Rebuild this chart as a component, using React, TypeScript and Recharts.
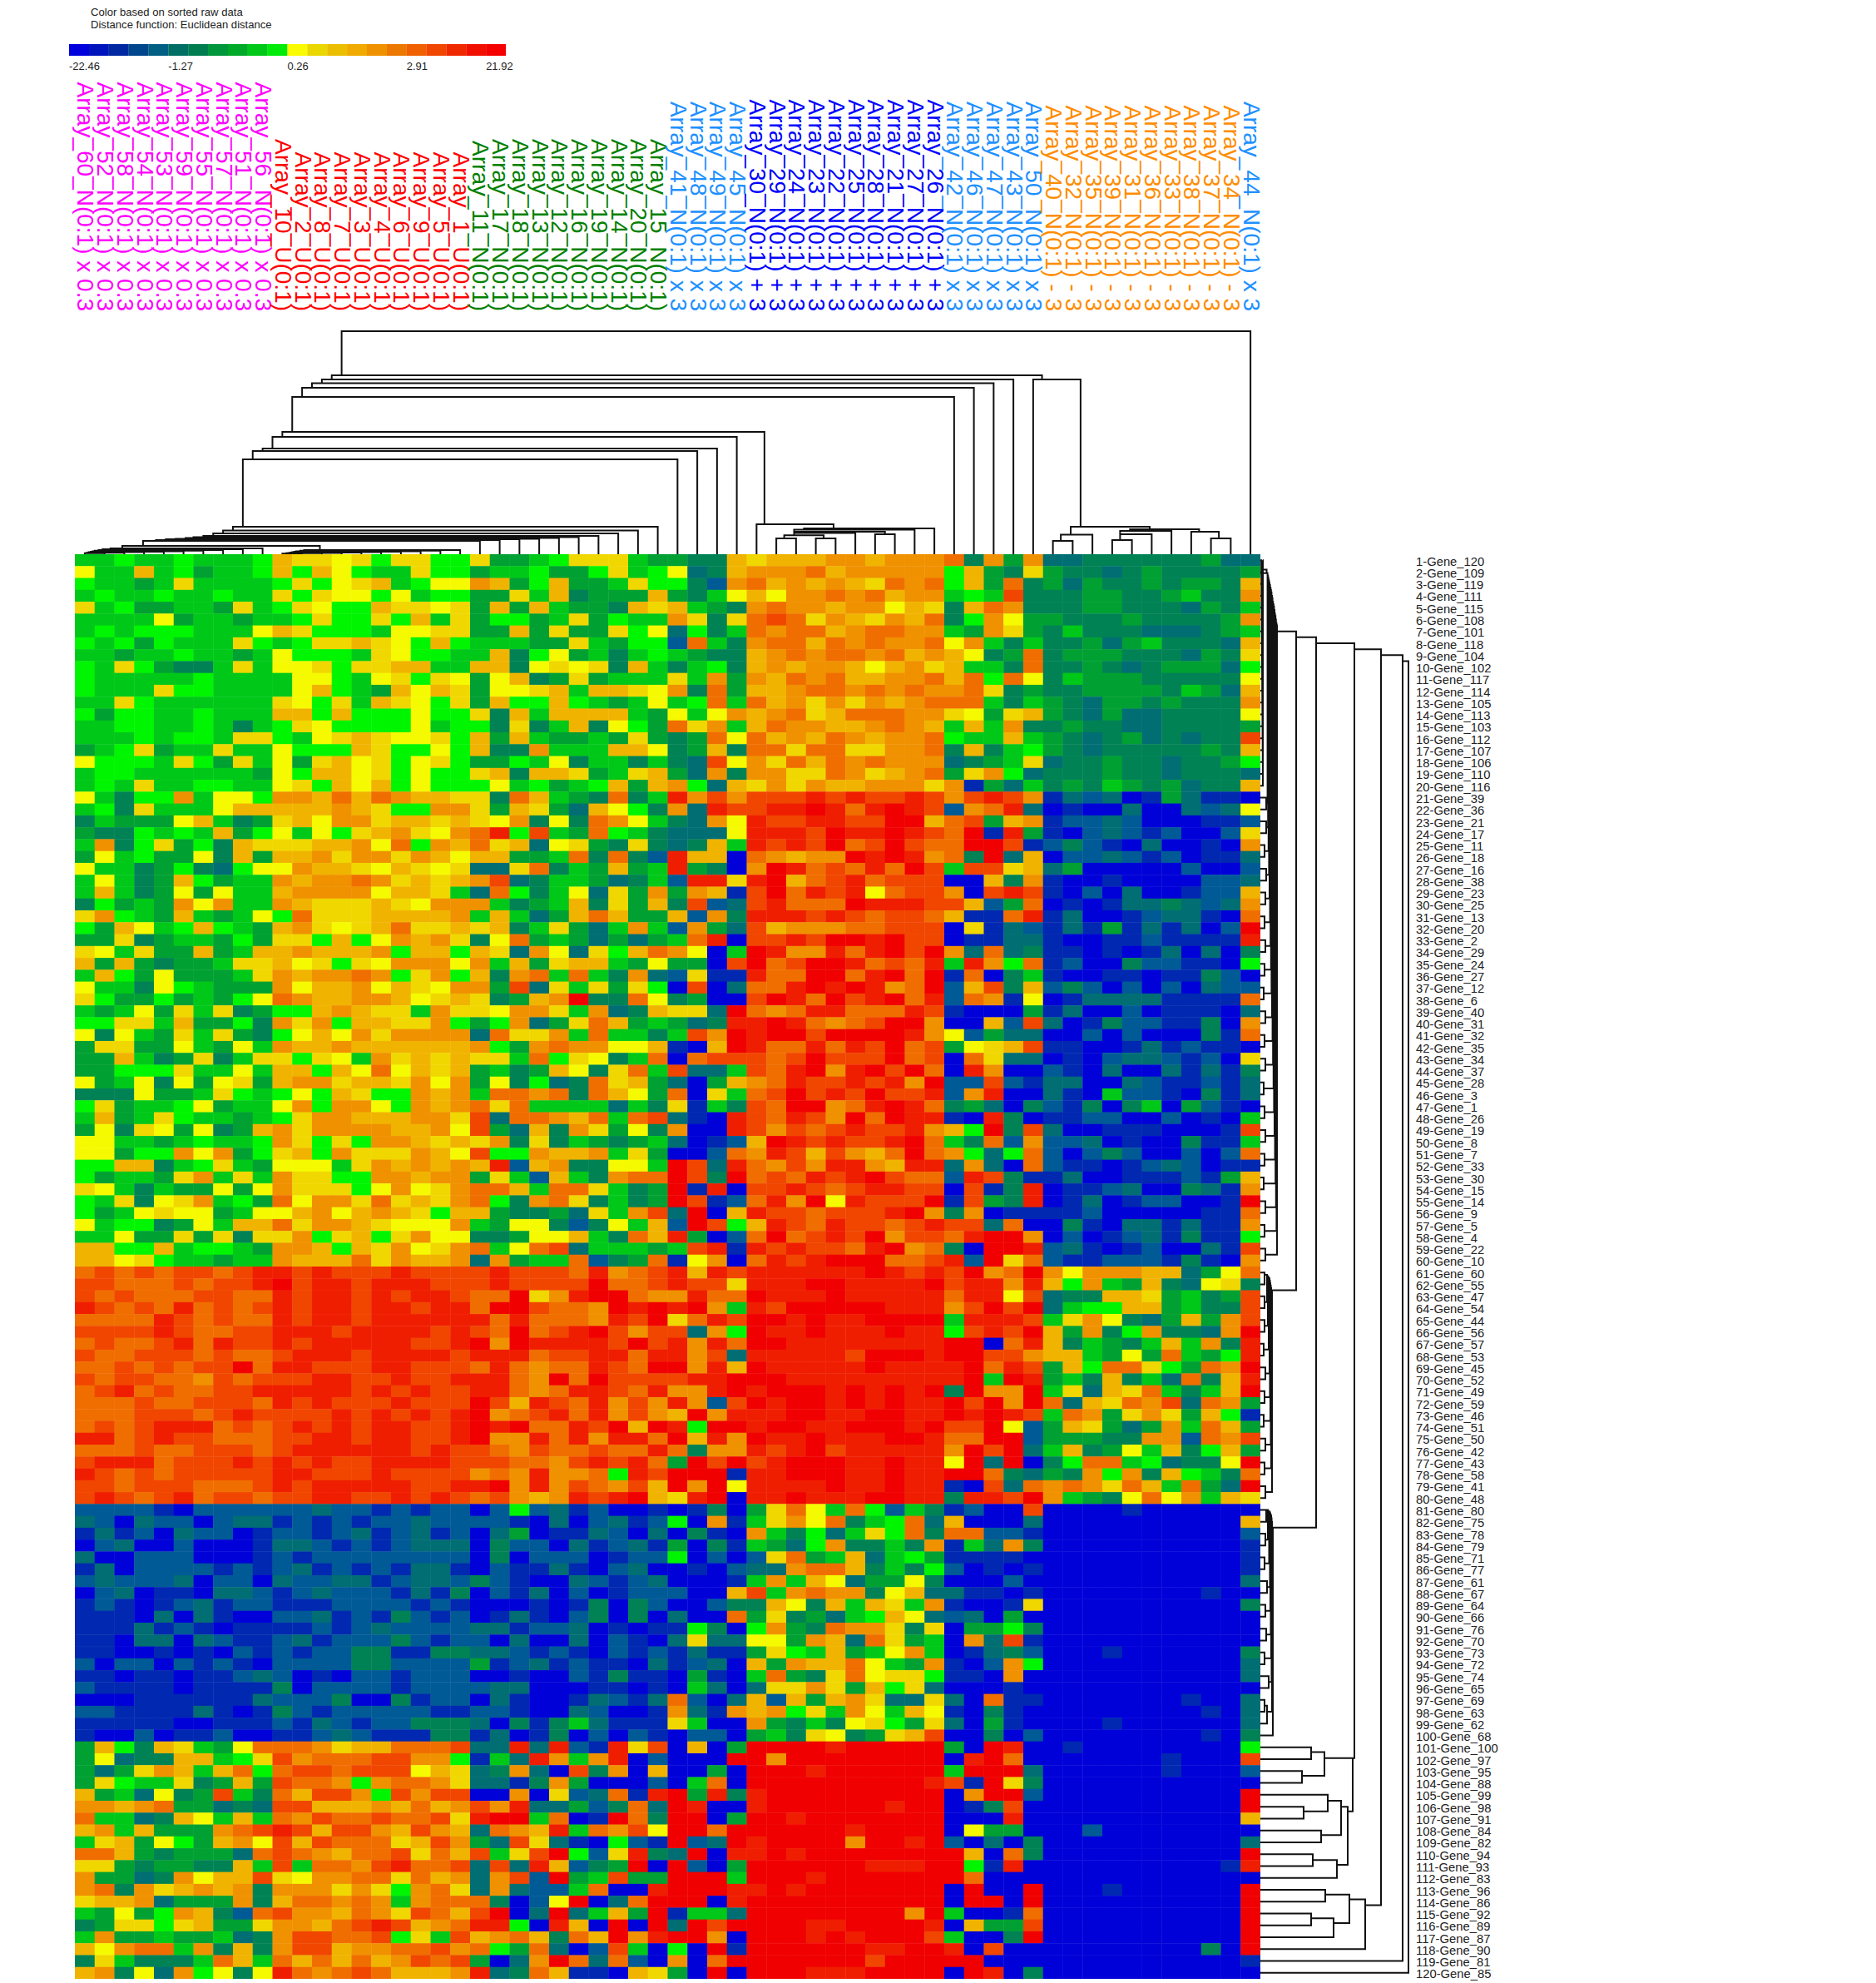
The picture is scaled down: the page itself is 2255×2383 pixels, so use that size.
import { BarChart, Bar, Cell, LineChart, Line, ScatterChart, Scatter, XAxis, YAxis } from 'recharts';

// colour levels of the heat map, low (blue) to high (red); a row string holds one letter per cell
const LEVEL_KEYS = 'abcdefghijklmnop';
const LEVEL_COLORS = [
  '#0000d8', '#0028b0', '#005a96', '#006e73', '#008255', '#00a032', '#00c819', '#00f500',
  '#f5fa00', '#f0d700', '#f0b400', '#f09100', '#f06e00', '#f04600', '#f01e00', '#f00000',
];

// rows 1-120, columns 1-60
const HEAT_ROWS = [
  'gghgghgggh kjjijhjjhh jffghjjjgf feekjkkkll klllmelfld deeeeeefdd',
  'iggkghfggh khkihggjhh fgghffhjgh ideklllmkl llllhkfejf eedefeeeef',
  'hggfgjgggg hjhijkghii lkfhkffgjh heclmklklk jmlmhkfmef dfeefeffek',
  'ghgghgghgg jhjiihighh ffjgkefffk fegikillml mkllghgnee effeefgeel',
  'jghffggfjg hjihhkjjij fkfkgffekj kgfelmllkl likjekmlee effeeedfeg',
  'ggggifggfg ghjhhjhkgj fhhfgjfhgg ljejmnmjlk jlkmehliff eeefeeeefl',
  'ghghhhgggi kjhhhgiijj ffkfjffjhi dhegmlmmkl mmllgfljfe geeedddefg',
  'hghfhgggjh ghjjkjihkh gggffjgfhh cmgelmmkml mllmilgege efdfgeeedk',
  'ggfgghggfg ihhhgjihhg gkehifgegh gfeeklmlmm lmklkiefme fffeeedfej',
  'hgjhfeegjg iijhjjkkgg kkeijijekg egheklkllk ikljkggeme efedefffdh',
  'hggggghggg giihgijhji fikefjfggg jglflkmlmk kllmkmhmie gfffeeeeei',
  'hgggjhhggg gikhgfkikj fiijkgkkji lemfkklmml mlmllmjefe effffegfdk',
  'ggjhgggggg jihjgkjihj fkhhkhgfgi ghmgmkljlj lklmmmgegf edffefeeel',
  'hfhhgghggg kkhkhhhihh jekgkkkkgf igilklmjkm mmlljifjkf edfddeeeei',
  'gghhgghgeg hjihhhhigh hejegkeihf mjlgkmllkk lmlkgkglee feeddeeeef',
  'ggghghhgjj hgijkjiijh kfkgffgfjf efmimklkml kllmhggkgf edefdedeen',
  'fghjfggjgg ihhhkjhhih keelgggkki efkemmjmmj jllmekeghf edeeeeefek',
  'ihhhgjhfjg ifjkijhijh ffhgieggeg edniljmkml mllldefgjd eefeedeefh',
  'ghhggggggf ihkkijhihh jkekkjfgjk fdlelljjml jklmfjlhde eefeedeeed',
  'ghgjgghhgg ijhkikhihh highfghkfk lhdkjljlkk llljlbfdge fegfefdeek',
  'igehhlgiih llkmkmlkkj jemkgfemeg olnlnnnono nnonlnonlb dcdabfdbba',
  'ghejgggikk kkklkjhhll jfkjfdkihe ldonnoopom oponclmoda baadaadcdi',
  'egfffikgef jkilljkkjk jileiemlig edlionnoon nppkmnfklb ccdcaaabbc',
  'feehghgkfh igihjkljil mohngfmhge dddiooonpo oponmpbofb acdcbcaacj',
  'glehjfhekj jjkklimhlk mjkdijfeje dekgononpm npnmmppnbc ecbadaabal',
  'fighffiekf kkljlljlki kkffgmemec okkamlkllp opolmepdka ccdcbcabbd',
  'iggefhedhi ilkkjikjij ddjmegfkfg ofealpomnm ompngnnjkd faaaaacaac',
  'gigefkhfgg lkllmljkjk lndeggfdeg coojopkmno mnnnaakelb aabaaaaccd',
  'gkgefifigg kllllikkjg dmhegidjfl flkbnpmono imnnlanonb acadaabcck',
  'ehfgflilgg lkjjjkjill lgefgkejfk encdnommmp ooonnkcfma babddedcdl',
  'jlhgfkgfgi hmjjjkkkkl gkgdfkmkff kcleooonon mnnmkbbmob daabcddbam',
  'hfkighkhgf kljijkmjjk jkegjfdglg clfdnklllm mnnnajbdcb dbfbdbdacp',
  'ffjefggfhf jjhkhilklj eimfgfdfdf gmoannonpp opnnabbddb aabbcbbbbo',
  'jigjffkfgk klkkklhkkh kjdlidjhkm liagpollom opnpldmdeb bababdadae',
  'kfkfeffgjj kijhjillli lgkfjkkgfi ffanpmnppo mnmogolhmb caaeccbbah',
  'gkhfifffgj lkllmlhjlh kelmgmgeld cjbbommppm opmpbmaegb aabbabbeca',
  'iggeihgfff likklikjil lfndjgjfjh anadmmopop olmpcknekc ecacacadcc',
  'jhffhfgfhi mlkkllkijk jefklpeemi efaanpompn opmocmlbia bddddbbbbm',
  'gfgifjgjef hhklkjjglj jilljgldek jjdpmlmoom mmonbaaafb daacabbbad',
  'hhjjgkffhe ljlhkkjjlh fhldfjmkfg fdeoopomlm npplaakcnd abeccbbeal',
  'ieigfjgjfe hikiljllll dmjjlgmgge gnlpoppnpp ppolicfdda acacaaaebm',
  'fjjffigfig lkklkkkkkk lhflmlliik bakpommomo npmnfijknb baabdbcbba',
  'ffkgefjegj jhjigljkjk jjgmhjiegm amnnnmnpnn npmnamjdda bacddcbcaj',
  'ffhhhjggig kkhkimikjk fgefkiejmg nddgnmoplo pnpmaolaac badaadbdbe',
  'ifgieifijf klljkkjlil fiehdemjkf dafklmonno nolpccncbd daadcbbcbd',
  'eeeiffgjhg hihkjhhlkl gmmlmemkif majgmnpnon pnnocloaad bagccbaebd',
  'hjfgghifgg ilhllihlkl mjmggggdge jbgenmpplm opomefdaec beaegafcba',
  'gkfgjhggfg hjllkkkllj ndmmlkmgmn dbaonmonlp mpoobaoeab bccaacabag',
  'fiejifiefk ljllllkkli nfdkeljfie laaonlnmno nnolkhpend aabbbaaabn',
  'iiggfghggh ljhjhllkjk jlejegfefg dabckponon nopmgemclc cdabaaebbg',
  'iifhhlilfh jkhljjjlki nhhlkklgjf aacmlonknl kmpmlhdhmc acecaacacm',
  'hhkkeghjgf iiigjlklkl kockleeiig pndomlnloo lkoodldamc bbabcdcabb',
  'hfggfjlgjg ljjhhllkll fjgckgelmm pnepmnmono pnmmconebb daabbbcbfk',
  'jigegffifi ljjjhilijl mmkgmmjgef pboannonmn oonnanbeoa bbcdaaedbl',
  'hgjeijlghf milljmjkjl mhelmjegef pnbcmolpio nnnpbnfeoa bdabccaabp',
  'hfgijiifgi ikliklkjhk kfeefdjgln dpakonnmnn noplelabbb bcaaaaabbm',
  'ighhefigkk mjllkjiiil gfiieceigk cpnhkonmon nmnonndmaa ebaddbdbbl',
  'ggiffjfjej jlhjkhjlii eefiikgemk ofacmpmnon plnnmoppla cabcdbebbh',
  'kkhhkghhgf llkhkjlijl mgimndgggf gnobononnm oplmeappoc dbabcaadbn',
  'kkijhggfgg lkkkmjlkkl dlfggmcefm bilamonopp pmmnocpjmc bbcccbebal',
  'mnmnmnnmno ononnnonnn nonnnmolmn okonoooooo pononplmpl illlkkdfim',
  'nnmmmnmnno pnoonooonn nonnnnpmmn onnjoooppo ooopnoolok hlgfkedije',
  'nmnmmmnnmm onoononoon mmpjloppml lommpooopo oooomooind eekkjfgefn',
  'onmnmomnmn onoonoonoo mppnmmlpop oplgonpppp pooolnpnpd ghhkkfgeen',
  'mmmmonmnmm onoonooooo omommmlonp jmonppopoo ppppgooong jliedfkfln',
  'nnnnonmmnn ooonoooono nmpmnopnln ndlhpoopoo opoohnonpk flehleedlp',
  'mnmmnomonn onooooonno plpoooonpn olomppoooo ooooppamok egfegkgleo',
  'nmmnnnmnmm nooonoooon ooomnnoomo olndooooon pppoppnnlk kgfifmgfho',
  'mmnmnmnnpm oonnnoonnn momlmmonmp plokpooooo poooopmonf khmmjhfmlp',
  'nmnnmmlnmn nnoonnonno oomlpmpnnn noopppoooo ooooopgpof gekegdmeko',
  'mnomnmmnno oooonononn oomlmoonmo llopopppop opopepllpg jdkjmgegkp',
  'mmmnmmnnnm ononnnonnn pnkonmolnl olcnpoppop opoopnplpm dkjmlndmlf',
  'mmmnnnmnon nnnononono plmnomolnl kploooppoo ppoopopong mlfjljfkhb',
  'mnmnooomnm nononoonno popmmonpkp ohppoppoop ppopnnpicf kjfdflgmkf',
  'oomnonnmmm nnoonoonno pllomoloom pkolpoopoo oppommppcf ffeellcmln',
  'mmmnmmnnnm noooooonon nmlnmmnmmo mellonopno oooolpnpdg kefigkehkf',
  'nooomnnnon ononnoooon nnmmlnonom fpnpnopppo opooipdpae hmmghdeeip',
  'onmnmnnnnn oonnnonnnn lmlollmhon pppboopppo opooppmedf elhlekhgem',
  'nnmnnnmmmn onooooonno oplolnmlnk plpioooopo opoobandml mljmkgmfdp',
  'nonmnomnnm nnoonnonon mnlklonopk jopaoopooo ppooeoonpl gfeimilgkj',
  'ccccbacccc ccdccbcbcc achcdbcaab abeafjmigm hcgebcaana aaabaaaaaa',
  'dcadccacdd bcbcbccdcc ccbadacdbc halbgjlime ghmdkaaada aaaaaaaaak',
  'bdbcadccab ccbcdbcdbc adfabbdcad aebalgehdg jhmemmccba aaaaaaaaac',
  'acdaacaaab ddcbcbcddd aeccadbcdb faebgfdhle egelbgdlea aaaaaaaaab',
  'daacccaaab cbcccccccc aeacccabcc hacacjmfgk dghfbbbbaa aaaaaaaaab',
  'bdaccccbcb cdbcbcbddb acbbdbacda abacddlmmk egehcababa aaaaaaaaab',
  'cdcccdacca dccddbcddc ecbaadcbcd aaabglgkid ffieaaacaa aaaaaaaaad',
  'acdabbaddc bcdcccbdbe acbdacabcc caaknglmll eikddbbaba aaaaaaabaa',
  'bcbabcdbcc bbbccccbcb aaababeaec aaceekiekg kjglbaabja aaaaaaaaae',
  'bbbadadbaa ccdbcbecbc abdbaceaea daamfjefdg hkidcdafaa aaaaaaaaaa',
  'bbbdbcbabb bbcbcdcccc ddbccdabab bheahlfeml ljejaffhea aaaaaaaaaa',
  'bbaddadcbb cdbcccecbc cadaadacba djddiiflkd mjfgaldnba aaaaaaaaaa',
  'bbaababacb cbcceebbee ddcbcbacbc bdbbfjhgkf gilgabdeca aabaaaaaae',
  'caccacbcba cccceecccc fbcdbcbbad bcdakflkkm igflbaclha aaaaaaaaad',
  'bbabbabbcd cabaccbccc aabaacbebb afbagmfejm ijjhbbalaa aaaaaaaaad',
  'cbbbbabbbb eaccccbccc cddaaabbab agdadjjljf khjdaaabaa aaaaaaaaaa',
  'aaabbbbbbd ccceaaebcc adbaabdcbd mcadkckfkl jddjdambba aaaaaabaad',
  'ccbbbbdbab ecbcccccbb ccbaadcaab ldblklhjgl igkibaebaa aaaaaaabad',
  'bbbbbaabbb cbdcbcceee daebegdbbb jgaalfegei jhfjdafbaa aabaaaaaad',
  'baacabbcaa bbcdcbbbee bdabeacacb accafgejie fjknaaeaca aaaaaaabae',
  'fkhekjgfim mmljkkmmmn ddodocbojn akafppppop ppppfapoaa baaaaaaaah',
  'fideekkghj nlmmmnnllh bgdolgloac aaapplpppp ppppaopmaa aaaaabaaan',
  'fdfjlkgkmh mnnmnnnikj deldanelak aafapppopp ppppgpppda aaaaabaaac',
  'fjhggjefkf nmmlhlmmlj ddbelfaaac agmapppppp ppponbpjea aaaaaaaaaa',
  'kfgdiefnge mknnlhnlnn aalajcdmbo pfoeoppppp ppppalppca aaaaaaaaap',
  'llklmffded nnkkklkmkl nloddfcemd poaaoppppp poppabenaa aaaaaaaaap',
  'mggdekigkg mlnmmnmmnj oppgmabpme ppafppoppp ppppaaaoaa aaaaaaaaak',
  'klgkffflmn onknnlknlk dmlkogmlni ppmppppppo ppppaiffaa acaaaaaaaa',
  'gjkfihfkli nknmmmjknl fdnjdbahcb pcdpoppppl ppopcadaea aaaaaaaaad',
  'mmkfefffdm nmlkmmnjmk ngjnphcjoe dpaoopoppp pppppkamea aaaaaaaaap',
  'jjfeffeekg ngmmlnommn dndokcefpa pcafpppppp ooopphboaa aaaaaaaabo',
  'lffdelikkn jillmmjmkl dlncpfgnff pppgpppopp pppppmaaaa aaaaaaaaaa',
  'lmeljklkle llljljhlmj dldccgmaao pppoopoppp ppppapaapa aabaaaaaap',
  'jkkldfffle kmmlmlglmm meacipadmp ppaopppppp ppppappapa aaaaaaaaap',
  'gfifhlkecm nllkmljnmk npadpdgkfp bggdpppppp pplpgaabma aaaaaaaaap',
  'efjjhjkffj llkmnonklm oohaokapap dpnppppoop pppoakffna aaaaaaaaap',
  'glffgffgde lnnmmnhjgn klmkemkplo pplapppopo pppngaaepa aaaaaaaaap',
  'kilmmgleke lnnkllmmnl mhfmdacnga hapbpppppp ooppoanaaa aaaaaaaeap',
  'ejgeeegmkg mkmkmklnmn fadlpmdmca lamppppppp npppppaaaa aaaaaaaaab',
  'kleidlhiei omlmnmkkkl odemkbbakj fapapppooo ppppapoaea aaaaaaaaaa',
];

const COLUMN_LABELS = [
  ...['60', '52', '58', '54', '53', '59', '55', '57', '51', '56'].map((n) => `Array_${n}_N(0:1) x 0.3`),
  ...['10', '2', '8', '7', '3', '4', '6', '9', '5', '1'].map((n) => `Array_${n}_U(0:1)`),
  ...['11', '17', '18', '13', '12', '16', '19', '14', '20', '15'].map((n) => `Array_${n}_N(0:1)`),
  ...['41', '48', '49', '45'].map((n) => `Array_${n}_N(0:1) x 3`),
  ...['30', '29', '24', '23', '22', '25', '28', '21', '27', '26'].map((n) => `Array_${n}_N(0:1) + 3`),
  ...['42', '46', '47', '43', '50'].map((n) => `Array_${n}_N(0:1) x 3`),
  ...['40', '32', '35', '39', '31', '36', '33', '38', '37', '34'].map((n) => `Array_${n}_N(0:1) - 3`),
  'Array_44_N(0:1) x 3',
];

const COLUMN_GROUPS: [number, string][] = [
  [10, '#ff00ff'], [10, '#ff0000'], [10, '#008000'], [4, '#1e90ff'],
  [10, '#0000ff'], [5, '#1e90ff'], [10, '#ff8c00'], [1, '#1e90ff'],
];

const GENE_IDS = [
  120, 109, 119, 111, 115, 108, 101, 118, 104, 102, 117, 114, 105, 113, 103, 112, 107, 106, 110, 116,
  39, 36, 21, 17, 11, 18, 16, 38, 23, 25, 13, 20, 2, 29, 24, 27, 12, 6, 40, 31,
  32, 35, 34, 37, 28, 3, 1, 26, 19, 8, 7, 33, 30, 15, 14, 9, 5, 4, 22, 10,
  60, 55, 47, 54, 44, 56, 57, 53, 45, 52, 49, 59, 46, 51, 50, 42, 43, 58, 41, 48,
  80, 75, 78, 79, 71, 77, 61, 67, 64, 66, 76, 70, 73, 72, 74, 65, 69, 63, 62, 68,
  100, 97, 95, 88, 99, 98, 91, 84, 82, 94, 93, 83, 96, 86, 92, 89, 87, 90, 81, 85,
];

// array tree: [left x, right x, height, height of left child, height of right child]
const ARRAY_LINKS = [
  [13.5, 59.5, 268, 215, 0], [13, 48.95, 215, 210, 210], [48.5, 50.9, 210, 0, 33],
  [12.5, 47.5, 210, 205.5, 0], [12, 46.5, 205.5, 200, 0], [11.5, 45.5, 200, 189, 0],
  [11, 44.5, 189, 147, 0], [10.5, 34.9, 147, 141, 36], [10, 33.5, 141, 127, 0],
  [9.5, 32.5, 127, 124, 0], [9, 31.5, 124, 114, 0], [8.5, 30.5, 114, 33, 0],
  [8, 29.5, 33, 28.5, 0], [7.5, 28.5, 28.5, 25, 0], [7, 27.5, 25, 22, 0],
  [6.5, 26.5, 22, 20.5, 0], [6, 25.5, 20.5, 19.5, 0], [5.6, 24.5, 19.5, 18.5, 0],
  [5.1, 23.5, 18.5, 18, 0], [4.6, 22.5, 18, 17, 0], [4.1, 21.5, 17, 16, 0],
  [3.45, 20.5, 16, 10, 0], [2.4, 12.4, 10, 7, 5],
  [1.8, 9.5, 7, 6, 0], [1.4, 8.5, 6, 5, 0], [1.2, 7.5, 5, 4.3, 0], [1, 6.5, 4.3, 3.6, 0],
  [0.9, 5.5, 3.6, 3, 0], [0.8, 4.5, 3, 2.4, 0], [0.7, 3.5, 2.4, 1.8, 0], [0.6, 2.5, 1.8, 1.2, 0],
  [0.5, 1.5, 1.2, 0, 0],
  [11.6, 19.5, 5, 4.2, 0], [11.4, 18.5, 4.2, 3.6, 0], [11.2, 17.5, 3.6, 3, 0], [11.1, 16.5, 3, 2.5, 0],
  [11, 15.5, 2.5, 2, 0], [10.9, 14.5, 2, 1.6, 0], [10.8, 13.5, 1.6, 1.2, 0], [10.7, 12.5, 1.2, 0.8, 0],
  [10.5, 11.5, 0.8, 0, 0],
  [34.5, 38.4, 36, 0, 31], [36.9, 43.5, 31, 29.5, 0], [36.4, 42.5, 29.5, 27, 0],
  [36.4, 41, 27, 25.5, 24], [40.5, 41.5, 24, 0, 0], [36.4, 39.5, 25.5, 22.7, 0],
  [35.9, 37.9, 22.7, 19, 19], [35.5, 36.5, 19, 0, 0], [37.5, 38.5, 19, 0, 0],
  [50.4, 54.4, 33, 23.5, 30], [49.9, 51.5, 23.5, 16, 0], [49.5, 50.5, 16, 0, 0],
  [53.4, 56.9, 30, 28, 27], [52.9, 55.5, 28, 24, 0], [52.9, 54.5, 24, 17, 0], [52.5, 53.5, 17, 0, 0],
  [56.5, 57.9, 27, 0, 19], [57.5, 58.5, 19, 0, 0],
];

// gene tree: [top row, bottom row, distance, distance of top child, distance of bottom child]
const GENE_LINKS = [
  [9, 119.5, 178, 171, 0], [8.5, 118.5, 171, 145, 0], [8, 113.8, 145, 113, 126],
  [7.5, 101.4, 113, 67, 111], [7, 82, 67, 43, 15], [6.5, 62, 43, 20, 14],
  [113.3, 117.5, 126, 107, 0], [112.9, 115.3, 107, 78, 88], [112.5, 113.5, 78, 0, 0],
  [114.9, 116.5, 88, 61, 0], [114.5, 115.5, 61, 0, 0],
  [101.4, 105.9, 111, 77, 105], [100.9, 102.9, 77, 61, 50], [100.5, 101.5, 61, 0, 0], [102.5, 103.5, 50, 0, 0],
  [105.5, 110.4, 105, 97, 92], [105, 107.9, 97, 81, 73], [104.5, 105.9, 81, 0, 52], [105.5, 106.5, 52, 0, 0],
  [107.5, 108.5, 73, 0, 0], [110, 111.5, 92, 63, 0], [109.5, 110.5, 63, 0, 0],
  [82, 99.5, 15, 14, 0], [81.5, 97.5, 14, 13.5, 8], [81.2, 95, 13.5, 13, 10], [81, 93, 13, 12.5, 5],
  [80.9, 91, 12.5, 12, 7], [80.8, 89, 12, 11.5, 6], [80.7, 87, 11.5, 10.5, 8], [80.6, 85, 10.5, 9, 5],
  [80.5, 83, 9, 7, 6], [80.5, 81.5, 7, 0, 0], [82.5, 83.5, 6, 0, 0], [84.5, 85.5, 5, 0, 0],
  [86.5, 87.5, 8, 0, 0], [88.5, 89.5, 6, 0, 0], [90.5, 91.5, 7, 0, 0], [92.5, 93.5, 5, 0, 0],
  [94.5, 95.5, 10, 0, 0], [96.5, 97.5, 5, 0, 0], [97, 98.5, 8, 5, 0],
  [62, 79, 14, 13, 6], [61.8, 77, 13, 12.5, 5], [61.6, 75, 12.5, 12, 6], [61.4, 73, 12, 11.5, 4],
  [61.2, 71, 11.5, 11, 5], [61, 69, 11, 10, 6], [60.9, 67, 10, 9, 4], [60.8, 65, 9, 8, 5],
  [60.7, 63, 8, 5, 5], [60.5, 61.5, 5, 0, 0], [62.5, 63.5, 5, 0, 0], [64.5, 65.5, 5, 0, 0],
  [66.5, 67.5, 4, 0, 0], [68.5, 69.5, 6, 0, 0], [70.5, 71.5, 5, 0, 0], [72.5, 73.5, 4, 0, 0],
  [74.5, 75.5, 6, 0, 0], [76.5, 77.5, 5, 0, 0], [78.5, 79.5, 6, 0, 0],
  [6, 59, 20, 19.4, 6], [5.8, 57, 19.4, 18.8, 5], [5.5, 55, 18.8, 18.2, 6], [5.2, 53, 18.2, 17.6, 4],
  [5, 51, 17.6, 17, 5], [4.7, 49, 17, 16.4, 6], [4.4, 47, 16.4, 15.8, 5], [4.2, 45, 15.8, 15.2, 4],
  [4, 43, 15.2, 14.6, 6], [3.7, 41, 14.6, 14, 5], [3.5, 39, 14, 13.4, 6], [3.2, 37, 13.4, 12.8, 4],
  [3, 35, 12.8, 12.2, 5], [2.8, 33, 12.2, 11.6, 6], [2.6, 31, 11.6, 11, 5], [2.4, 29, 11, 10.4, 6],
  [2.2, 27, 10.4, 9.8, 7], [2, 25, 9.8, 9.2, 5], [1.8, 23, 9.2, 8.6, 7], [1.6, 21, 8.6, 7.5, 7],
  [20.5, 21.5, 7, 0, 0], [22.5, 23.5, 7, 0, 0], [24.5, 25.5, 5, 0, 0], [26.5, 27.5, 7, 0, 0],
  [28.5, 29.5, 6, 0, 0], [30.5, 31.5, 5, 0, 0], [32.5, 33.5, 6, 0, 0], [34.5, 35.5, 5, 0, 0],
  [36.5, 37.5, 4, 0, 0], [38.5, 39.5, 6, 0, 0], [40.5, 41.5, 5, 0, 0], [42.5, 43.5, 6, 0, 0],
  [44.5, 45.5, 4, 0, 0], [46.5, 47.5, 5, 0, 0], [48.5, 49.5, 6, 0, 0], [50.5, 51.5, 5, 0, 0],
  [52.5, 53.5, 4, 0, 0], [54.5, 55.5, 6, 0, 0], [56.5, 57.5, 5, 0, 0], [58.5, 59.5, 6, 0, 0],
  [1.3, 1.6, 7.5, 3, 0],
  [0.5, 19.5, 3, 2.9, 0], [0.6, 18.5, 2.9, 2.8, 0], [0.7, 17.5, 2.8, 2.7, 0], [0.8, 16.5, 2.7, 2.6, 0],
  [0.9, 15.5, 2.6, 2.5, 0], [1, 14.5, 2.5, 2.4, 0], [1.1, 13.5, 2.4, 2.3, 0], [1.2, 12.5, 2.3, 2.2, 0],
  [1.2, 11.5, 2.2, 2.1, 0], [1.2, 10.5, 2.1, 2, 0], [1.2, 9.5, 2, 1.9, 0], [1.2, 8.5, 1.9, 1.8, 0],
  [1.2, 7.5, 1.8, 1.7, 0], [1.2, 6.5, 1.7, 1.6, 0], [1.2, 5.5, 1.6, 1.5, 0], [1.2, 4.5, 1.5, 1.4, 0],
  [1.2, 3.5, 1.4, 1.3, 0], [1.2, 2.5, 1.3, 1.2, 0], [0.5, 1.5, 1.2, 0, 0],
];

const LEGEND_COLORS = [
  '#0000dc', '#0014be', '#0028a0', '#00468c', '#005f82', '#006e64', '#007d50', '#00963c', '#00aa28', '#00c819', '#00eb0a',
  '#fafa00', '#ebd700', '#ebbe00', '#f0aa00', '#f09100', '#eb7800', '#f05f00', '#f04600', '#f02800', '#f00f00', '#f50000',
];
const LEGEND_TICKS: Record<number, string> = { 0: '-22.46', 5: '-1.27', 11: '0.26', 17: '2.91', 21: '21.92' };

const FONT = '"Liberation Sans", Arial, sans-serif';
const CELL_W = 1425 / 60;
const CELL_H = 1712 / 120;

const cells = HEAT_ROWS.flatMap((line, row) =>
  line.replace(/ /g, '').split('').map((key, col) => ({ x: col + 0.5, y: row + 0.5, level: LEVEL_KEYS.indexOf(key) })),
);

const columnColors = COLUMN_GROUPS.flatMap(([n, color]) => Array(n).fill(color));
const columnTicks = COLUMN_LABELS.map((_, i) => i + 0.5);
const rowTicks = GENE_IDS.map((_, i) => i + 0.5);
const legendData = LEGEND_COLORS.map((_, i) => ({ idx: i, v: 1 }));

const arrayTree = ARRAY_LINKS.flatMap(([xl, xr, h, hl, hr]) => [
  { x: xl, y: hl }, { x: xl, y: h }, { x: xr, y: h }, { x: xr, y: hr }, { x: xr, y: null },
]);
const geneTree = GENE_LINKS.flatMap(([top, bottom, d, dt, db]) => [
  { x: dt, y: top }, { x: d, y: top }, { x: d, y: bottom }, { x: db, y: bottom }, { x: db, y: null },
]);

function CellShape(props: any) {
  return (
    <rect
      x={props.cx - CELL_W / 2}
      y={props.cy - CELL_H / 2}
      width={CELL_W + 0.4}
      height={CELL_H + 0.4}
      fill={LEVEL_COLORS[props.payload.level]}
    />
  );
}

function ColumnTick(props: any) {
  const i = Math.floor(props.payload.value);
  const x = props.x + 1;
  return (
    <text
      x={x}
      y={374}
      transform={`rotate(90 ${x} 374)`}
      textAnchor="end"
      dominantBaseline="central"
      fontFamily={FONT}
      fontSize={28}
      fill={columnColors[i]}
    >
      {COLUMN_LABELS[i]}
    </text>
  );
}

function GeneTick(props: any) {
  const i = Math.floor(props.payload.value);
  return (
    <text x={187} y={props.y + 1.5} dominantBaseline="central" fontFamily={FONT} fontSize={14.8} fill="#222">
      {`${i + 1}-Gene_${GENE_IDS[i]}`}
    </text>
  );
}

function LegendTick(props: any) {
  const label = LEGEND_TICKS[props.payload.value];
  if (!label) return <g />;
  return (
    <text x={props.x - 525 / 22 / 2} y={26} dominantBaseline="central" fontFamily={FONT} fontSize={13} fill="#222">
      {label}
    </text>
  );
}

const at = (left: number, top: number) => ({ position: 'absolute' as const, left, top });

export default function App() {
  return (
    <div style={{ position: 'absolute', left: 0, top: 0, width: 2255, height: 2383, background: '#fff', overflow: 'hidden' }}>
      <div style={{ ...at(109, 8), fontFamily: FONT, fontSize: 13.1, lineHeight: '14.5px', color: '#222', whiteSpace: 'nowrap' }}>
        Color based on sorted raw data
        <br />
        Distance function: Euclidean distance
      </div>

      <div style={at(83, 53)}>
        <BarChart width={565} height={36} data={legendData} margin={{ top: 0, right: 40, bottom: 0, left: 0 }} barCategoryGap={0}>
          <XAxis dataKey="idx" interval={0} height={22} axisLine={false} tickLine={false} tick={LegendTick} />
          <YAxis hide domain={[0, 1]} />
          <Bar dataKey="v" isAnimationActive={false}>
            {legendData.map((d) => (
              <Cell key={d.idx} fill={LEGEND_COLORS[d.idx]} />
            ))}
          </Bar>
        </BarChart>
      </div>

      {/* array tree with the column labels on its axis */}
      <div style={at(70, 0)}>
        <LineChart width={1465} height={666} margin={{ top: 0, right: 20, bottom: 0, left: 20 }}>
          <XAxis
            dataKey="x"
            type="number"
            orientation="top"
            height={398}
            domain={[0, 60]}
            ticks={columnTicks}
            interval={0}
            axisLine={false}
            tickLine={false}
            tick={ColumnTick}
          />
          <YAxis hide type="number" domain={[0, 268]} />
          <Line data={arrayTree} dataKey="y" stroke="#111" strokeWidth={2} dot={false} isAnimationActive={false} />
        </LineChart>
      </div>

      <div style={at(90, 666)}>
        <ScatterChart width={1425} height={1712} margin={{ top: 0, right: 0, bottom: 0, left: 0 }}>
          <XAxis hide dataKey="x" type="number" domain={[0, 60]} />
          <YAxis hide dataKey="y" type="number" domain={[0, 120]} reversed />
          <Scatter data={cells} shape={CellShape} isAnimationActive={false} />
        </ScatterChart>
      </div>

      {/* gene tree with the row labels on its axis */}
      <div style={at(1515, 666)}>
        <LineChart width={387} height={1717} margin={{ top: 0, right: 0, bottom: 5, left: 0 }}>
          <XAxis hide dataKey="x" type="number" domain={[0, 187]} />
          <YAxis
            orientation="right"
            type="number"
            width={200}
            domain={[0, 120]}
            reversed
            ticks={rowTicks}
            interval={0}
            axisLine={false}
            tickLine={false}
            tick={GeneTick}
          />
          <Line data={geneTree} dataKey="y" stroke="#111" strokeWidth={2} dot={false} isAnimationActive={false} />
        </LineChart>
      </div>
    </div>
  );
}
